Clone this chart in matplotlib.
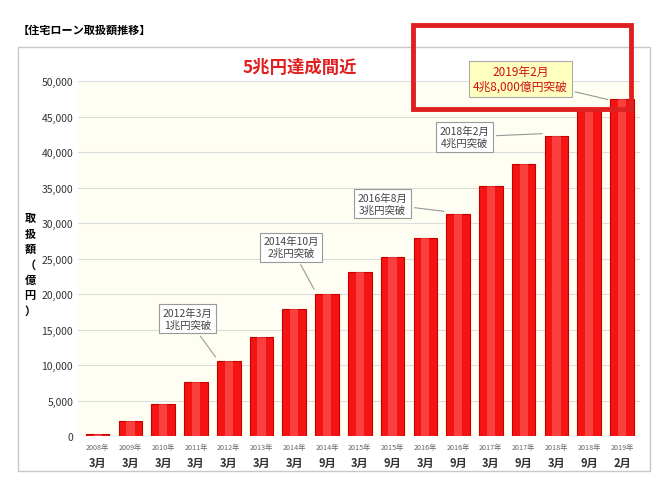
import matplotlib
matplotlib.use("Agg")
import matplotlib.pyplot as plt
from matplotlib.patches import Rectangle

plt.rcParams["font.family"] = "Noto Sans CJK JP"

years = ["2008年", "2009年", "2010年", "2011年", "2012年", "2013年", "2014年", "2014年", "2015年",
         "2015年", "2016年", "2016年", "2017年", "2017年", "2018年", "2018年", "2019年"]
months = ["3月", "3月", "3月", "3月", "3月", "3月", "3月", "9月", "3月",
          "9月", "3月", "9月", "3月", "9月", "3月", "9月", "2月"]
values = [300, 2100, 4500, 7600, 10500, 13900, 17900, 20000, 23100,
          25200, 27900, 31300, 35200, 38300, 42300, 45800, 47500]
yticks = list(range(0, 50001, 5000))

callouts = [(4, "2012年3月\n1兆円突破"), (7, "2014年10月\n2兆円突破"),
            (11, "2016年8月\n3兆円突破"), (14, "2018年2月\n4兆円突破")]
callout_pos = [(2.75, 16500), (5.9, 26600), (8.7, 32700), (11.2, 42100)]

fig = plt.figure(figsize=(6.68, 5.02), dpi=100)
fig.patches.append(Rectangle((18/668, 30/502), 632/668, 424/502, transform=fig.transFigure,
                             fill=False, edgecolor="#c8c8c8", lw=1))
fig.text(18/668, 1-30/502, "【住宅ローン取扱額推移】", fontsize=8, fontweight="bold", va="center")
fig.text(300/668, 1-68/502, "5兆円達成間近", fontsize=12.5, fontweight="bold", color="#e02020",
         ha="center", va="center")

ax = fig.add_axes([78/668, 65/502, 562/668, 355/502])
ax.set_facecolor("#fffef2")
x = list(range(len(values)))
ax.bar(x, values, width=0.72, color="#f51414", edgecolor="#c40000", lw=0.8, zorder=3)
ax.bar(x, values, width=0.25, color="#ff6a6a", lw=0, zorder=3, alpha=0.5)
ax.set_xlim(-0.6, len(values) - 0.45)
ax.set_ylim(0, 50000)
ax.set_yticks(yticks)
ax.set_yticklabels([f"{v:,}" for v in yticks], fontsize=7.5, color="#333333")
ax.grid(axis="y", color="#dddddd", lw=0.8, zorder=0)
for s in ax.spines.values():
    s.set_visible(False)
ax.tick_params(length=0)
ax.set_xticks([])
for i in x:
    ax.text(i, -0.02, years[i], transform=ax.get_xaxis_transform(), ha="center", va="top",
            fontsize=5.2, color="#666666")
    ax.text(i, -0.055, months[i], transform=ax.get_xaxis_transform(), ha="center", va="top",
            fontsize=8, fontweight="bold", color="#333333")
fig.text(30/668, 1-265/502, "取\n扱\n額\n（\n億\n円\n）", fontsize=8, fontweight="bold",
         ha="center", va="center", linespacing=1.25)

for (i, t), (px, py) in zip(callouts, callout_pos):
    ax.annotate(t, xy=(i - 0.35, values[i] + 300), xytext=(px, py), ha="center", va="center",
                fontsize=7.5, color="#444444",
                bbox=dict(boxstyle="square,pad=0.35", fc="white", ec="#999999", lw=0.8),
                arrowprops=dict(arrowstyle="-", color="#999999", lw=0.8), zorder=5)
ax.annotate("2019年2月\n4兆8,000億円突破", xy=(16 - 0.35, 47300), xytext=(12.9, 50300),
            ha="center", va="center", fontsize=8.5, color="#d01010", annotation_clip=False,
            bbox=dict(boxstyle="square,pad=0.35", fc="#ffffc0", ec="#aaaaaa", lw=0.8),
            arrowprops=dict(arrowstyle="-", color="#999999", lw=0.8), zorder=5)

fig.patches.append(Rectangle((413/668, 1-110/502), 218/668, 84/502, transform=fig.transFigure,
                             fill=False, edgecolor="#e02020", lw=3.5, zorder=10))
fig.savefig("out.png", dpi=100, facecolor="white")
